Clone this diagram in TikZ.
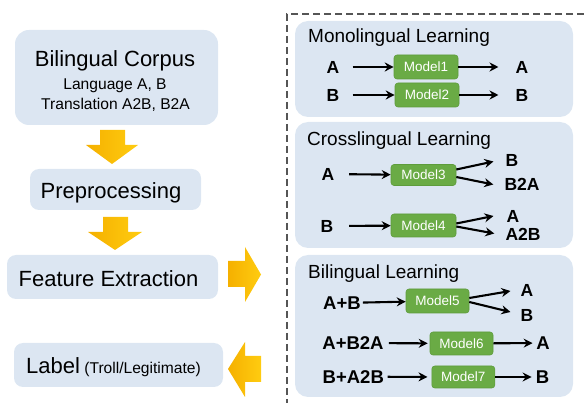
\documentclass[tikz,border=0pt]{standalone}
\usepackage{fontspec}
\setmainfont{Liberation Sans}
\usetikzlibrary{arrows.meta,calc}
\definecolor{panelblue}{HTML}{DCE6F2}
\definecolor{modelgreen}{HTML}{6AAB45}
\definecolor{modeledge}{HTML}{5E9C3C}
\definecolor{yelA}{HTML}{F5B000}
\definecolor{yelB}{HTML}{FFCC10}
\definecolor{dashgray}{HTML}{555555}
\begin{document}
\begin{tikzpicture}[x=1pt,y=-1pt,
  panel/.style={fill=panelblue, draw=none, rounded corners=13pt, inner sep=0},
  sbox/.style={fill=panelblue, draw=none, rounded corners=9pt, inner sep=0},
  model/.style={fill=modelgreen, draw=modeledge, line width=0.6pt, rounded corners=3pt,
    text=white, font=\fontsize{13.5}{15}\selectfont, inner sep=0,
    minimum width=63pt, minimum height=23pt},
  sym/.style={font=\fontsize{17.5}{20}\selectfont\bfseries, inner sep=0},
  symL/.style={font=\fontsize{18.5}{21}\selectfont\bfseries, inner sep=0},
  title/.style={font=\fontsize{19}{22}\selectfont, inner sep=0, anchor=base west},
  big/.style={font=\fontsize{22}{25}\selectfont, inner sep=0, anchor=base},
  small/.style={font=\fontsize{15.6}{18}\selectfont, inner sep=0, anchor=base},
  arr/.style={-{Stealth[length=9pt,width=9pt,inset=3pt]}, line width=2.1pt},
  yarrow/.style={left color=yelA, right color=yelB, draw=none}
]
\useasboundingbox (0,0) rectangle (584,403);

% ---------- left pipeline ----------
\node[sbox, rounded corners=14pt, minimum width=203pt, minimum height=95pt] (corpus) at (116.5,77.5) {};
\node[big] (corpusT) at (115,66.7) {Bilingual Corpus};
\node[small] (corpusL1) at (115,90) {Language A, B};
\node[small] (corpusL2) at (115.5,110) {Translation A2B, B2A};

\node[sbox, minimum width=171pt, minimum height=41pt] (prep) at (115.5,189.5) {};
\node[big] (prepT) at (111,198.3) {Preprocessing};

\node[sbox, minimum width=211pt, minimum height=44pt] (feat) at (112.5,277) {};
\node[big] (featT) at (108.5,286.7) {Feature Extraction};

\node[sbox, minimum width=209pt, minimum height=44pt] (label) at (118.5,365) {};
\node[big, anchor=base west] (labelT) at (26,373.3) {Label\fontsize{15.6}{18}\selectfont\ (Troll/Legitimate)};

% yellow block arrows
\shade[yarrow] (100,130) -- (125,130) -- (125,145) -- (138,145) -- (112,164) -- (86,145) -- (100,145) -- cycle;
\shade[yarrow] (103,217) -- (128,217) -- (128,232) -- (142,232) -- (115,250) -- (88,232) -- (103,232) -- cycle;
\shade[yarrow] (228,261) -- (245,261) -- (245,247) -- (261,274.5) -- (245,302) -- (245,287) -- (228,287) -- cycle;
\shade[yarrow] (261,356) -- (245,356) -- (245,342) -- (228,369) -- (245,397) -- (245,382) -- (261,382) -- cycle;

% dashed frame
\draw[dashgray, line width=1.1pt, dash pattern=on 7pt off 4pt] (584,14) -- (287,14) -- (287,403);

% ---------- Monolingual ----------
\node[panel, minimum width=278pt, minimum height=96pt] (mono) at (434,69) {};
\node[title] (tmono) at (308,42.7) {Monolingual Learning};

\node[sym] (a1) at (333,67) {A};
\node[model, minimum width=64pt, minimum height=24pt] (m1) at (426,67) {Model1};
\node[sym] (a1o) at (522,67) {A};
\draw[arr, shorten <=13pt] (a1) -- (m1);
\draw[arr, shorten >=17pt] (m1) -- (a1o);

\node[sym] (b1) at (333,95) {B};
\node[model, minimum width=64pt, minimum height=24pt] (m2) at (427,95) {Model2};
\node[sym] (b1o) at (522,95) {B};
\draw[arr, shorten <=13pt] (b1) -- (m2);
\draw[arr, shorten >=17pt] (m2) -- (b1o);

% ---------- Crosslingual ----------
\node[panel, minimum width=278pt, minimum height=126pt] (cross) at (434,185) {};
\node[title] (tcross) at (307,146) {Crosslingual Learning};

\node[sym] (a3) at (328,174) {A};
\node[model, minimum width=65pt, minimum height=21pt] (m3) at (423.5,175) {Model3};
\node[sym] (b3o) at (512,160) {B};
\node[sym] (b2a3) at (522,184.5) {B2A};
\draw[arr, shorten <=14.5pt] (a3) -- (m3);
\draw[arr] ($(m3.east)+(0,-5.5)$) -- ($(b3o.west)+(-12,1.5)$);
\draw[arr] ($(m3.east)+(0,2)$) -- ($(b2a3.west)+(-11,0)$);

\node[sym] (b4) at (327,226) {B};
\node[model, minimum width=65pt, minimum height=23pt] (m4) at (423.5,225.5) {Model4};
\node[sym] (a4o) at (513,216) {A};
\node[sym] (a2b4) at (523,234.5) {A2B};
\draw[arr, shorten <=15.5pt] (b4) -- (m4);
\draw[arr] ($(m4.east)+(0,-2)$) -- ($(a4o.west)+(-13,0)$);
\draw[arr] ($(m4.east)+(0,1)$) -- ($(a2b4.west)+(-11,-1)$);

% ---------- Bilingual ----------
\node[panel, minimum width=278pt, minimum height=142pt] (bil) at (434,326) {};
\node[title] (tbil) at (308,278.3) {Bilingual Learning};

\node[symL] (ab5) at (342,303) {A+B};
\node[model, minimum height=24pt] (m5) at (437.5,301) {Model5};
\node[sym] (a5o) at (527,290) {A};
\node[sym] (b5o) at (527,315) {B};
\draw[arr, shorten <=2pt] (ab5) -- (m5);
\draw[arr] ($(m5.east)+(0,-3)$) -- ($(a5o.west)+(-10,1)$);
\draw[arr] ($(m5.east)+(0,1)$) -- ($(b5o.west)+(-10,-3)$);

\node[symL] (ab6) at (353,343) {A+B2A};
\node[model] (m6) at (461.5,343.5) {Model6};
\node[symL] (a6o) at (543,343) {A};
\draw[arr, shorten <=5pt, shorten >=2pt] (ab6) -- (m6);
\draw[arr, shorten >=3.5pt] (m6) -- (a6o);

\node[symL] (ab7) at (353.3,376.7) {B+A2B};
\node[model, minimum height=22pt] (m7) at (463.3,377) {Model7};
\node[symL] (b7o) at (542.5,377) {B};
\draw[arr, shorten <=3.5pt, shorten >=4pt] (ab7) -- (m7);
\draw[arr, shorten >=4pt] (m7) -- (b7o);
\end{tikzpicture}
\end{document}
